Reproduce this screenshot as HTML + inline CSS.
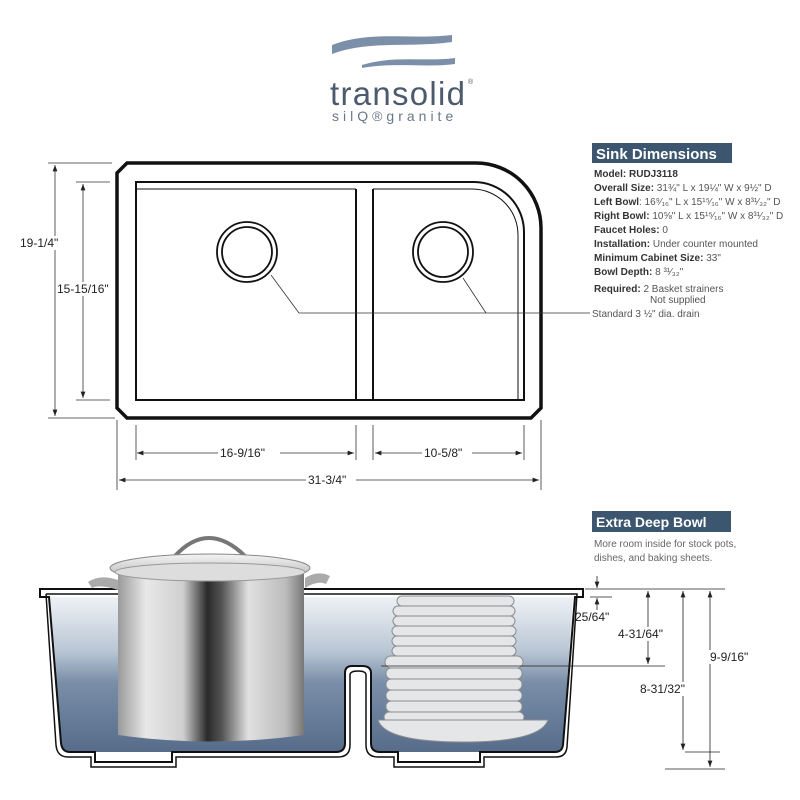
<!DOCTYPE html>
<html><head><meta charset="utf-8"><style>
body{margin:0;background:#fff;}
svg{display:block;font-family:"Liberation Sans",sans-serif;}
</style></head><body>
<svg width="800" height="800" viewBox="0 0 800 800" xmlns="http://www.w3.org/2000/svg">
<defs>
<linearGradient id="blue" x1="0" y1="0" x2="0" y2="1">
<stop offset="0" stop-color="#eef2f6"/><stop offset="0.35" stop-color="#b9c6d4"/><stop offset="0.55" stop-color="#7a8ea8"/><stop offset="1" stop-color="#566c8a"/></linearGradient>
<linearGradient id="steel" x1="0" y1="0" x2="1" y2="0">
<stop offset="0" stop-color="#9a9a9a"/><stop offset="0.15" stop-color="#e8e8e8"/><stop offset="0.35" stop-color="#cfcfcf"/><stop offset="0.48" stop-color="#2a2a2a"/><stop offset="0.56" stop-color="#555"/><stop offset="0.7" stop-color="#e0e0e0"/><stop offset="0.9" stop-color="#bcbcbc"/><stop offset="1" stop-color="#777"/></linearGradient>
<linearGradient id="lid" x1="0" y1="0" x2="0" y2="1"><stop offset="0" stop-color="#f4f4f4"/><stop offset="1" stop-color="#b0b0b0"/></linearGradient>
<marker id="ar" markerWidth="8" markerHeight="6" refX="8" refY="3" orient="auto-start-reverse"><path d="M0,0 L8,3 L0,6z" fill="#222"/></marker>
</defs>
<!-- logo -->
<path d="M332,45 C370,30 410,40 452,35 L452,42 C410,48 370,40 332,54z" fill="#7b90a8"/>
<path d="M362,65 C395,55 425,62 455,58 L455,64 C425,68 395,62 362,68z" fill="#7b90a8"/>
<text x="330" y="105" font-size="33" fill="#4c5a6c" textLength="135">transolid</text>
<text x="468" y="84" font-size="7" fill="#4c5a6c">®</text>
<text x="332" y="121" font-size="14" fill="#6a7787" letter-spacing="4">silQ®granite</text>
<!-- top view -->
<g fill="none" stroke="#111">
<path d="M127,163 H476 A65,65 0 0 1 541,228 V408 L531,418 H127 L117,408 V173z" stroke-width="3.5"/>
<path d="M136,182 H474 A50,50 0 0 1 524,232 V400 H136z" stroke-width="2"/>
<path d="M136,189 H356 M373,189 H472 A46,46 0 0 1 518,235 V400" stroke-width="1"/>
<path d="M356,189 V400 M373,189 V400" stroke-width="2"/>
<circle cx="247" cy="252" r="30" stroke-width="1.8"/><circle cx="247" cy="252" r="25" stroke-width="1.8"/>
<circle cx="443" cy="252" r="30" stroke-width="1.8"/><circle cx="443" cy="252" r="25" stroke-width="1.8"/>
<path d="M299,313 L271,275 M299,313 H590 M486,313 L463,278" stroke-width="0.8" stroke="#333"/>
<g stroke-width="0.8" stroke="#333">
<path d="M48,163 H112 M76,182 H110 M76,400 H110 M48,418 H115"/>
<path d="M55,165 V416" marker-start="url(#ar)" marker-end="url(#ar)"/>
<path d="M83,184 V398" marker-start="url(#ar)" marker-end="url(#ar)"/>
<path d="M136,425 V460 M356,425 V460 M373,425 V460 M524,425 V460 M117,420 V490 M541,420 V490"/>
<path d="M137,453 H354" marker-start="url(#ar)" marker-end="url(#ar)"/>
<path d="M375,453 H522" marker-start="url(#ar)" marker-end="url(#ar)"/>
<path d="M119,480 H539" marker-start="url(#ar)" marker-end="url(#ar)"/>
</g></g>
<g font-size="12" fill="#222">
<rect x="18" y="236" width="60" height="14" fill="#fff"/><text x="20" y="247">19-1/4"</text>
<rect x="56" y="282" width="58" height="14" fill="#fff"/><text x="57" y="293">15-15/16"</text>
<rect x="218" y="446" width="62" height="14" fill="#fff"/><text x="220" y="457">16-9/16"</text>
<rect x="422" y="446" width="50" height="14" fill="#fff"/><text x="424" y="457">10-5/8"</text>
<rect x="306" y="473" width="50" height="14" fill="#fff"/><text x="308" y="484">31-3/4"</text>
</g>
<!-- spec panel -->
<rect x="592" y="143" width="140" height="20" fill="#3d5670"/>
<text x="596" y="159" font-size="15" font-weight="bold" fill="#fff">Sink Dimensions</text>
<g font-size="10" fill="#555">
<text x="594" y="177"><tspan font-weight="bold" fill="#333">Model:  RUDJ3118</tspan></text>
<text x="594" y="191"><tspan font-weight="bold" fill="#333">Overall Size:</tspan> 31¾" L x 19¼" W x 9½" D</text>
<text x="594" y="205"><tspan font-weight="bold" fill="#333">Left Bowl</tspan>: 16⁹⁄₁₆" L x 15¹⁵⁄₁₆" W x 8³¹⁄₃₂" D</text>
<text x="594" y="219"><tspan font-weight="bold" fill="#333">Right Bowl:</tspan> 10⅝" L x 15¹⁵⁄₁₆" W x 8³¹⁄₃₂" D</text>
<text x="594" y="233"><tspan font-weight="bold" fill="#333">Faucet Holes:</tspan> 0</text>
<text x="594" y="247"><tspan font-weight="bold" fill="#333">Installation:</tspan> Under counter mounted</text>
<text x="594" y="261"><tspan font-weight="bold" fill="#333">Minimum Cabinet Size:</tspan> 33"</text>
<text x="594" y="275"><tspan font-weight="bold" fill="#333">Bowl Depth:</tspan> 8 ³¹⁄₃₂"</text>
<text x="594" y="292"><tspan font-weight="bold" fill="#333">Required:</tspan> 2 Basket strainers</text>
<text x="650" y="303">Not supplied</text>
<text x="592" y="317">Standard 3 ½" dia. drain</text>
</g>
<rect x="592" y="511" width="139" height="21" fill="#3d5670"/>
<text x="596" y="527" font-size="14" font-weight="bold" fill="#fff">Extra Deep Bowl</text>
<text x="594" y="547" font-size="10" fill="#666">More room inside for stock pots,</text>
<text x="594" y="561" font-size="10" fill="#666">dishes, and baking sheets.</text>
<!-- side view -->
<path d="M50,597 H573 L563,745 Q562,752 555,752 H380 Q371,752 371,743 V673 Q371,666 362,666 H352 Q345,666 345,673 V743 Q345,752 336,752 H70 Q62,752 61,743z" fill="url(#blue)"/>
<g fill="none" stroke="#111" stroke-width="2">
<path d="M40,589 H583 V597 H575 L563,745 Q562,752 555,752 H480 V762 H398 V752 H380 Q371,752 371,743 V673 Q371,666 362,666 H352 Q345,666 345,673 V743 Q345,752 336,752 H172 V762 H95 V752 H70 Q62,752 61,743 L49,597 H40z"/>
<path d="M46,594 H577 L567,747 Q566,757 556,757 H484 V767 H394 V757 H378 Q366,757 366,745 V675 Q366,671 358,671 Q350,671 350,675 V745 Q350,757 338,757 H176 V767 H91 V757 H68 Q57,757 56,745 L46,594" stroke-width="1.5"/>
</g>
<!-- pot -->
<path d="M175,556 Q208,520 245,556" fill="none" stroke="#777" stroke-width="4"/>
<path d="M88,582 Q100,574 118,580 L118,590 Q100,584 92,588z" fill="#aaa"/>
<path d="M330,576 Q318,570 305,578 L305,588 Q318,580 326,584z" fill="#aaa"/>
<ellipse cx="210" cy="568" rx="100" ry="14" fill="url(#lid)" stroke="#888"/>
<path d="M118,572 H304 V735 Q210,748 118,735z" fill="url(#steel)"/>
<ellipse cx="210" cy="572" rx="95" ry="9" fill="#ddd" stroke="#999"/>
<!-- plates -->
<g fill="#e4e6e8" stroke="#8a8d92" stroke-width="1">
<rect x="397" y="596" width="117" height="10" rx="5"/>
<rect x="393" y="606" width="122" height="10" rx="5"/>
<rect x="393" y="616" width="122" height="10" rx="5"/>
<rect x="392" y="626" width="124" height="10" rx="5"/>
<rect x="392" y="636" width="124" height="10" rx="5"/>
<rect x="392" y="646" width="124" height="10" rx="5"/>
<rect x="385" y="656" width="138" height="12" rx="6"/>
<rect x="386" y="668" width="136" height="11" rx="5"/>
<rect x="386" y="679" width="136" height="11" rx="5"/>
<rect x="386" y="690" width="136" height="11" rx="5"/>
<rect x="386" y="701" width="136" height="11" rx="5"/>
<rect x="384" y="712" width="140" height="10" rx="5"/>
<path d="M378,720 H548 Q540,742 463,742 Q385,742 378,720z"/>
</g>
<!-- side dims -->
<g stroke="#222" stroke-width="0.8" fill="none">
<path d="M381,666 H665"/>
<path d="M585,589 H725 M590,597 H612 M685,752 H720 M665,769 H725"/>
<path d="M597,576 V588" marker-end="url(#ar)"/><path d="M597,610 V598" marker-end="url(#ar)"/>
<path d="M648,591 V664" marker-start="url(#ar)" marker-end="url(#ar)"/>
<path d="M683,591 V750" marker-start="url(#ar)" marker-end="url(#ar)"/>
<path d="M710,591 V767" marker-start="url(#ar)" marker-end="url(#ar)"/>
</g>
<g font-size="12" fill="#222">
<text x="575" y="621">25/64"</text>
<rect x="616" y="627" width="54" height="14" fill="#fff"/><text x="618" y="638">4-31/64"</text>
<rect x="638" y="682" width="70" height="14" fill="#fff"/><text x="640" y="693">8-31/32"</text>
<rect x="708" y="650" width="52" height="14" fill="#fff"/><text x="710" y="661">9-9/16"</text>
</g>
</svg>
</body></html>
